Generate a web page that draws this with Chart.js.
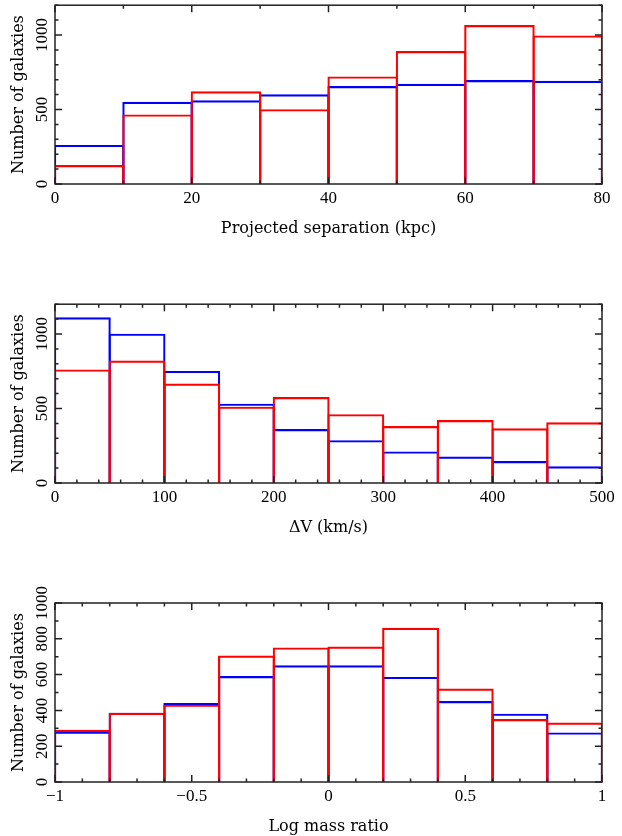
<!DOCTYPE html>
<html>
<head>
<meta charset="utf-8">
<script src="https://cdn.jsdelivr.net/npm/chart.js@4/dist/chart.umd.min.js"></script>
<style>
  body { margin: 0; background: #fff; }
  .panel { position: absolute; left: 0; width: 622px; }
</style>
</head>
<body>
<div class="panel" style="top:0"><canvas id="sepChart" width="622" height="299"></canvas></div>
<div class="panel" style="top:299px"><canvas id="dvChart" width="622" height="299"></canvas></div>
<div class="panel" style="top:578px"><canvas id="massChart" width="622" height="258"></canvas></div>
<script>
// bin edges and counts
const sepEdges = [0, 10, 20, 30, 40, 50, 60, 70, 80];
const sepBlue = [260, 550, 560, 600, 655, 670, 695, 690];
const sepRed = [125, 465, 620, 500, 720, 890, 1065, 995];
const sepYTicks = [0, 500, 1000];

const dvEdges = [0, 50, 100, 150, 200, 250, 300, 350, 400, 450, 500];
const dvBlue = [1110, 1000, 750, 530, 360, 285, 210, 175, 145, 110];
const dvRed = [760, 820, 665, 510, 575, 460, 380, 420, 365, 405];
const dvYTicks = [0, 500, 1000];

const massEdges = [-1, -0.8, -0.6, -0.4, -0.2, 0, 0.2, 0.4, 0.6, 0.8, 1];
const massBlue = [280, 385, 440, 590, 650, 650, 585, 450, 380, 275];
const massRed = [290, 385, 430, 705, 750, 755, 860, 520, 350, 330];
const massYTicks = [0, 200, 400, 600, 800, 1000];

const tickFont = { family: "Liberation Serif", size: 17 };
const titleFont = { family: "DejaVu Serif", size: 16 };
const plotWidth = 547; // 622 - 55 (y axis) - 20 (right pad)
const lineW = 1.5;

// frame with inward ticks on all four sides
const framePlugin = {
  id: "frame",
  afterDraw(chart, args, opts) {
    const { ctx, chartArea: a } = chart;
    const xs = chart.scales.x, ys = chart.scales.y;
    ctx.save();
    ctx.strokeStyle = "#222";
    ctx.lineWidth = 1.5;
    ctx.strokeRect(a.left, a.top, a.right - a.left, a.bottom - a.top);
    ctx.beginPath();
    const marks = (min, max, minor, major) => {
      const out = [];
      const n = Math.round((max - min) / minor);
      for (let i = 0; i <= n; i++) {
        const v = min + i * minor;
        const r = v / major;
        out.push({ v, big: Math.abs(r - Math.round(r)) < 1e-6 });
      }
      return out;
    };
    marks(xs.min, xs.max, opts.xMinor, opts.xMajor).forEach((m) => {
      const px = xs.getPixelForValue(m.v);
      const len = m.big ? 7 : 3.5;
      ctx.moveTo(px, a.bottom); ctx.lineTo(px, a.bottom - len);
      ctx.moveTo(px, a.top); ctx.lineTo(px, a.top + len);
    });
    marks(ys.min, ys.max, opts.yMinor, opts.yMajor).forEach((m) => {
      const py = ys.getPixelForValue(m.v);
      const len = m.big ? 7 : 3.5;
      ctx.moveTo(a.left, py); ctx.lineTo(a.left + len, py);
      ctx.moveTo(a.right, py); ctx.lineTo(a.right - len, py);
    });
    ctx.stroke();
    ctx.restore();
  },
};

function centers(edges) {
  return edges.slice(0, -1).map((e, i) => (e + edges[i + 1]) / 2);
}

function makePanel(id, edges, blue, red, yTicks, cfg) {
  const mids = centers(edges);
  const ctx = document.getElementById(id).getContext("2d");
  const H = ctx.canvas.height;
  const padTop = cfg.padTop || 5;
  // bars a touch wider than the bin so neighbouring borders overlap into one line
  const thick = plotWidth / mids.length + lineW;
  const bar = (vals, color) => ({
    data: vals.map((v, i) => ({ x: mids[i], y: v })),
    borderColor: color,
    backgroundColor: "rgba(0,0,0,0)",
    borderWidth: lineW,
    borderSkipped: "start",
    grouped: false,
    barThickness: thick,
  });
  new Chart(ctx, {
    type: "bar",
    // first dataset is drawn on top, so red goes first
    data: { datasets: [bar(red, "#ff0000"), bar(blue, "#0000ff")] },
    options: {
      responsive: false,
      animation: false,
      devicePixelRatio: 1,
      layout: { padding: { top: padTop, left: 0, right: 20, bottom: H - padTop - 233 } },
      plugins: {
        legend: { display: false },
        tooltip: { enabled: false },
        frame: { xMinor: cfg.xMinor, xMajor: cfg.xMajor, yMinor: 100, yMajor: cfg.yMajor },
      },
      scales: {
        x: {
          type: "linear",
          offset: false,
          min: edges[0],
          max: edges[edges.length - 1],
          grid: { display: false, drawTicks: false },
          border: { display: false },
          ticks: {
            stepSize: cfg.xMajor,
            padding: 4,
            color: "#000",
            font: tickFont,
            autoSkip: false,
            maxRotation: 0,
            callback: (v) => String(v).replace("-", "\u2212"),
          },
          title: { display: true, text: cfg.xTitle, color: "#000", font: titleFont, padding: 0 },
          afterFit: (s) => { s.height = 54; },
        },
        y: {
          min: 0,
          max: cfg.yMax,
          grid: { display: false, drawTicks: false },
          border: { display: false },
          afterBuildTicks: (s) => { s.ticks = yTicks.map((v) => ({ value: v })); },
          ticks: {
            padding: -5,
            color: "#000",
            font: tickFont,
            autoSkip: false,
            minRotation: 90,
            maxRotation: 90,
            crossAlign: "center",
            callback: (v) => String(v),
          },
          title: {
            display: true,
            text: "Number of galaxies",
            color: "#000",
            font: titleFont,
            padding: { top: 9, bottom: 0 },
          },
          afterFit: (s) => { s.width = 55; },
        },
      },
    },
    plugins: [framePlugin],
  });
}

makePanel("sepChart", sepEdges, sepBlue, sepRed, sepYTicks, {
  xTitle: "Projected separation (kpc)", xMajor: 20, xMinor: 10, yMax: 1200, yMajor: 500,
});
makePanel("dvChart", dvEdges, dvBlue, dvRed, dvYTicks, {
  xTitle: "\u0394V (km/s)", xMajor: 100, xMinor: 20, yMax: 1200, yMajor: 500,
});
makePanel("massChart", massEdges, massBlue, massRed, massYTicks, {
  xTitle: "Log mass ratio", xMajor: 0.5, xMinor: 0.1, yMax: 1000, yMajor: 200, padTop: 25,
});
</script>
</body>
</html>
